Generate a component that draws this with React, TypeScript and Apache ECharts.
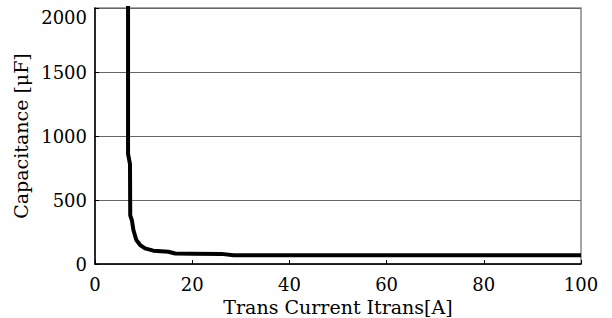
import React, { useEffect, useRef } from "react";
import * as echarts from "echarts";

const currentA = [6.8, 6.8, 7.2, 7.25, 7.6, 7.9, 8.5, 9.3, 10.3, 12.0, 15.1, 16.5, 20, 26, 28.5, 40, 60, 80, 100];
const capacitanceUF = [2100, 860, 780, 380, 340, 266, 188, 148, 122, 104, 96, 82, 80, 79, 68, 68, 68, 68, 68];
const xTicks = [0, 20, 40, 60, 80, 100];
const yTicks = [0, 500, 1000, 1500, 2000];

export default function App() {
  const ref = useRef<HTMLDivElement>(null);
  useEffect(() => {
    if (!ref.current) return;
    const chart = echarts.init(ref.current, null, { renderer: "svg" });
    const font = "DejaVu Serif";
    chart.setOption({
      animation: false,
      backgroundColor: "#ffffff",
      grid: {
        left: 95,
        right: 31,
        top: 8,
        bottom: 54,
        outerBoundsMode: "none",
        show: true,
        borderColor: "#888888",
        borderWidth: 1.5,
      },
      xAxis: {
        type: "value",
        min: xTicks[0],
        max: xTicks[xTicks.length - 1],
        interval: 20,
        name: "Trans Current Itrans[A]",
        nameLocation: "middle",
        nameGap: 24,
        nameTextStyle: { fontFamily: font, fontSize: 19, color: "#000" },
        axisLine: { show: true, lineStyle: { color: "#000", width: 1.5 } },
        axisTick: { show: true, inside: true, length: 4, lineStyle: { color: "#000" } },
        axisLabel: {
          fontFamily: font,
          fontSize: 18,
          color: "#000",
          margin: 11,
          formatter: (v: number) => String(v),
        },
        splitLine: { show: false },
      },
      yAxis: {
        type: "value",
        min: yTicks[0],
        max: yTicks[yTicks.length - 1],
        interval: 500,
        name: "Capacitance [μF]",
        nameLocation: "middle",
        nameGap: 61,
        nameTextStyle: { fontFamily: font, fontSize: 19, color: "#000" },
        axisLine: { show: true, lineStyle: { color: "#000", width: 1.5 } },
        axisTick: { show: true, inside: true, length: 4, lineStyle: { color: "#000" } },
        axisLabel: {
          fontFamily: font,
          fontSize: 18,
          color: "#000",
          margin: 8,
          verticalAlignMaxLabel: "top",
          formatter: (v: number) => String(v),
        },
        splitLine: { show: true, lineStyle: { color: "#666666", width: 1 } },
      },
      series: [
        {
          type: "line",
          data: currentA.map((x, i) => [x, capacitanceUF[i]]),
          showSymbol: false,
          symbol: "none",
          clip: true,
          lineStyle: { color: "#000", width: 4, join: "round" },
        },
      ],
    });
    return () => chart.dispose();
  }, []);
  return (
    <div
      ref={ref}
      style={{ position: "fixed", left: 0, top: 0, width: 612, height: 318 }}
    />
  );
}
